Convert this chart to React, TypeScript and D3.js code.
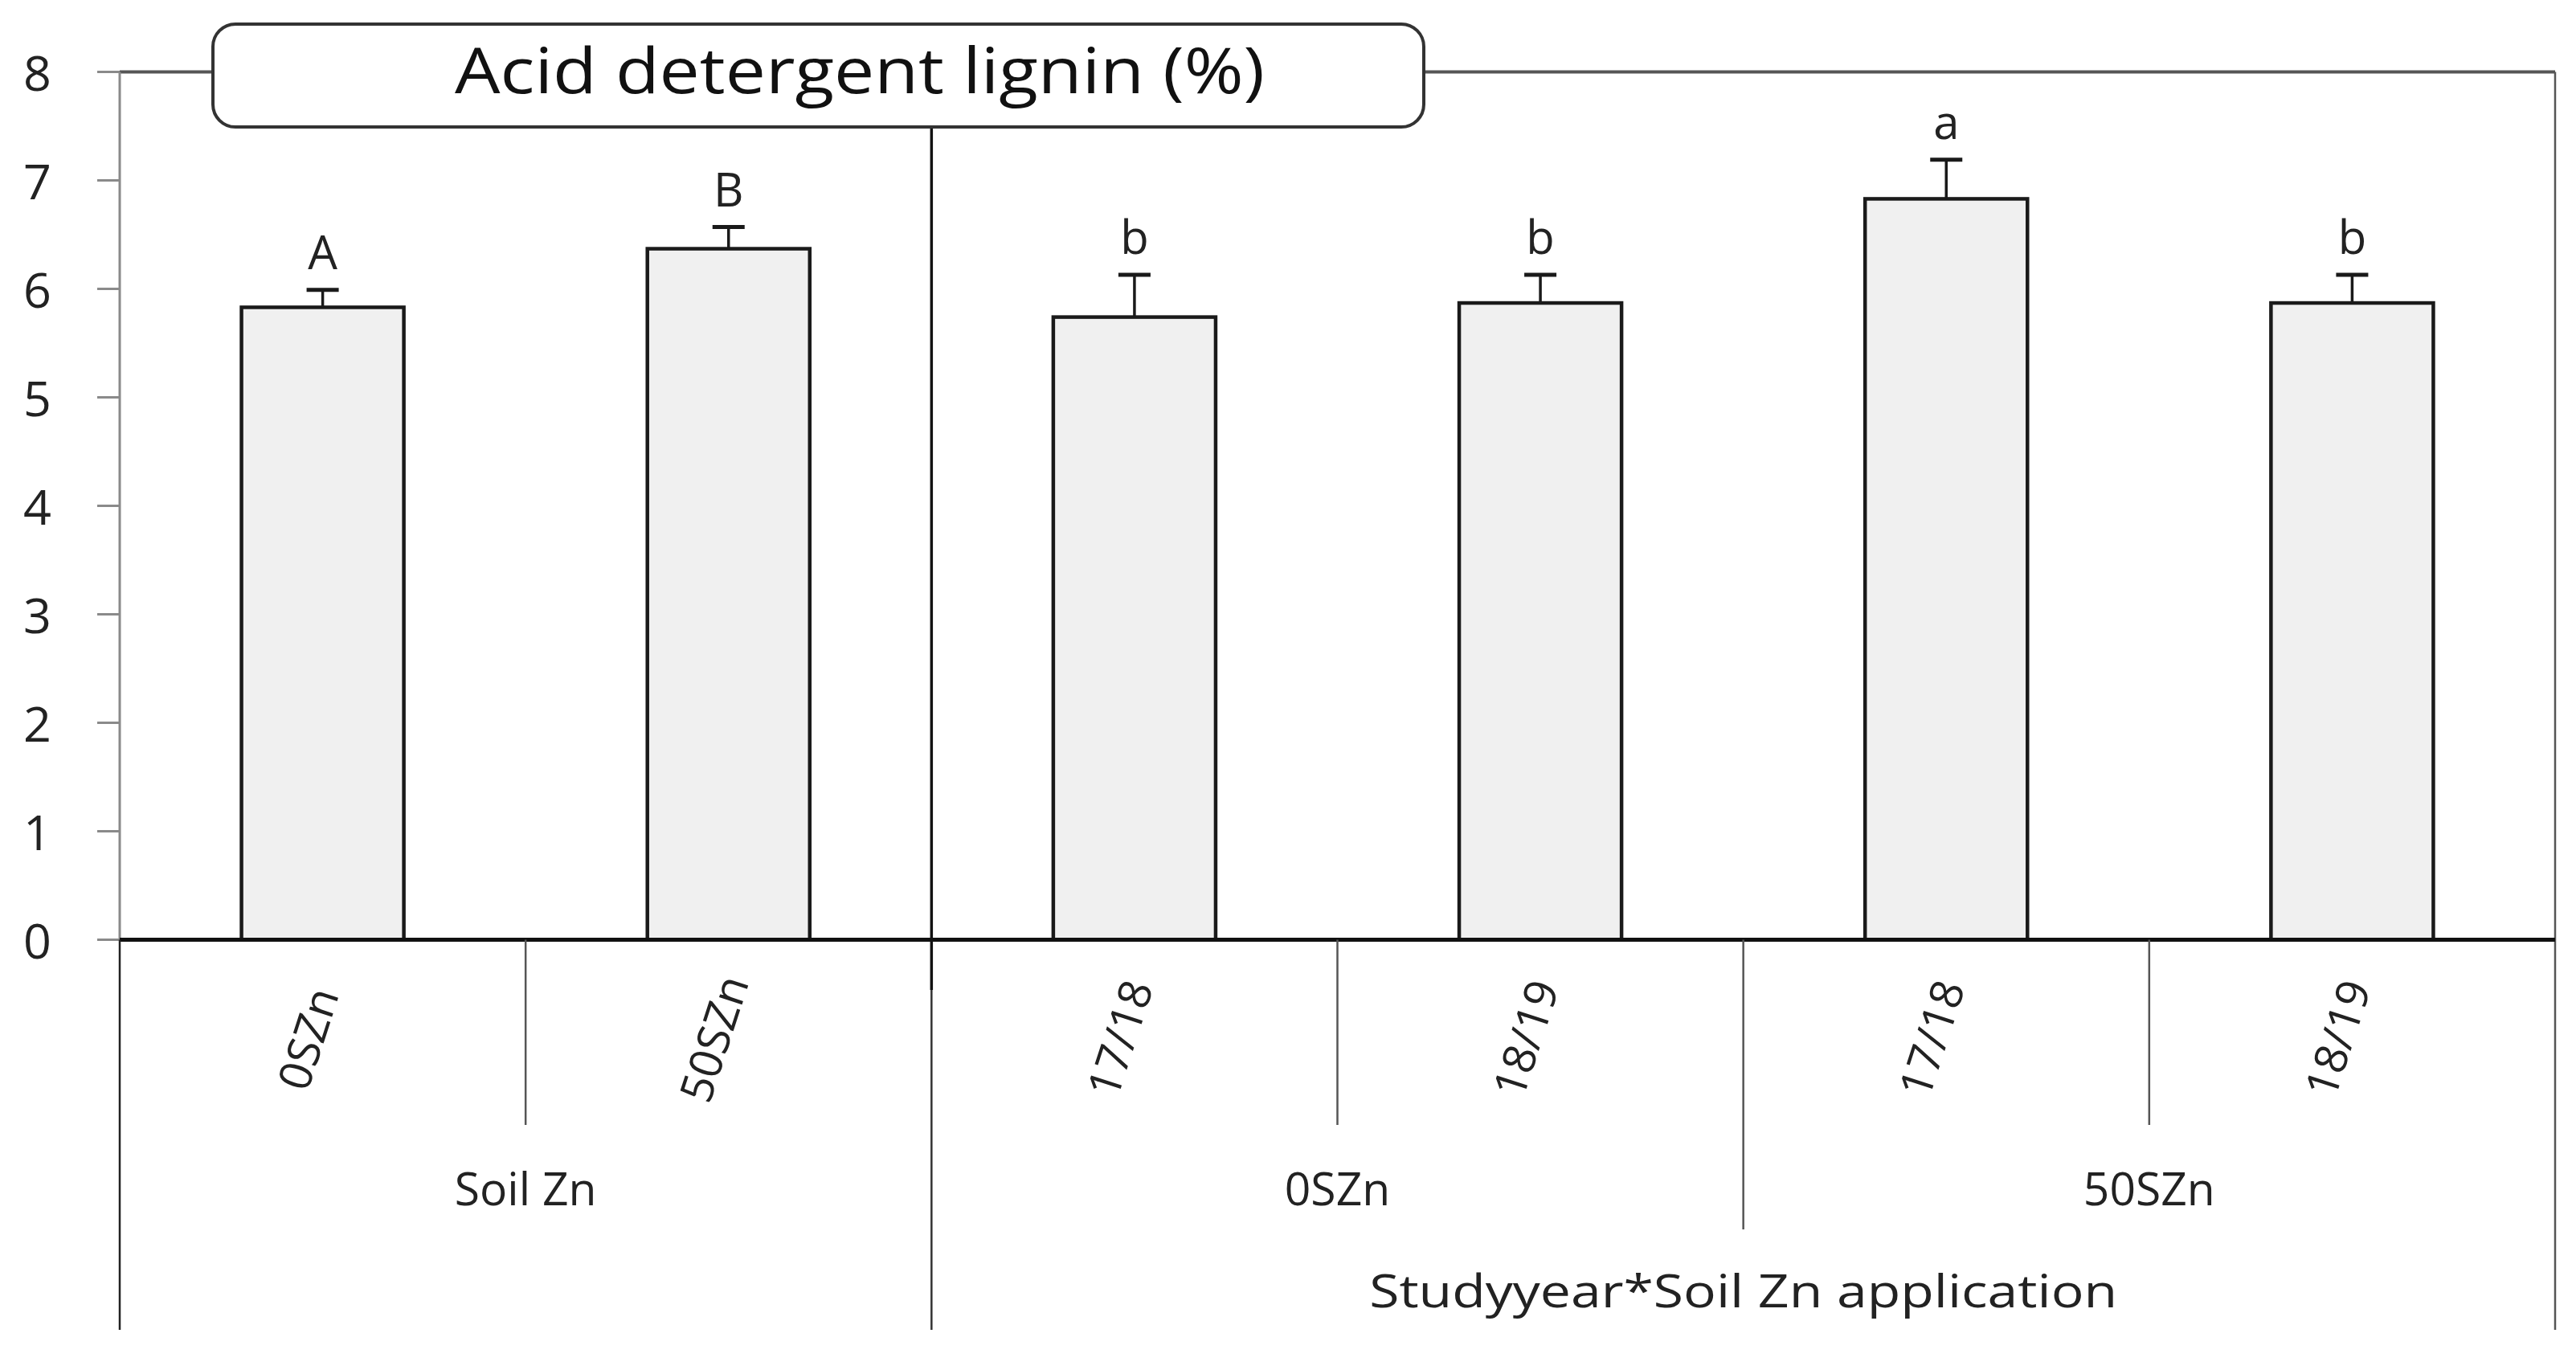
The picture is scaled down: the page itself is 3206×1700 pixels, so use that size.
import React from 'react';
import * as d3 from 'd3';

const categories = ['0SZn', '50SZn', '17/18', '18/19', '17/18', '18/19'];
const means = [5.83, 6.37, 5.74, 5.87, 6.83, 5.87];
const errors = [0.16, 0.2, 0.39, 0.26, 0.36, 0.26];
const letters = ['A', 'B', 'b', 'b', 'a', 'b'];
const groupLabels = ['Soil Zn', '0SZn', '50SZn'];
const groupSpans: [number, number][] = [[0, 1], [2, 3], [4, 5]];
const sectionLabel = 'Studyyear*Soil Zn application';
const sectionSpan: [number, number] = [2, 5];
const yTicks = [0, 1, 2, 3, 4, 5, 6, 7, 8];
const title = 'Acid detergent lignin (%)';

const W = 3206;
const H = 1700;
const FONT = "'Open Sans', 'Noto Sans', sans-serif";

export default function App() {
  const left = 149;
  const right = 3180;
  const y = d3.scaleLinear().domain([0, 8]).range([1169.5, 89.5]);
  const x = d3
    .scaleBand<number>()
    .domain(categories.map((_, i) => i))
    .range([left, right])
    .paddingInner(0.6)
    .paddingOuter(0.3);
  const step = x.step();
  const bw = x.bandwidth();
  const boundary = (i: number) => left + i * step;
  const center = (i: number) => (x(i) as number) + bw / 2;
  const y0 = y(0);
  const tier1Bottom = 1400;
  const tier2Bottom = 1530;
  const tableBottom = 1655;

  return (
    <svg
      width={W}
      height={H}
      style={{ position: 'absolute', left: 0, top: 0, background: '#fff' }}
      fontFamily={FONT}
    >
      <rect x={0} y={0} width={W} height={H} fill="#fff" />
      {/* frame top & right */}
      <line x1={left} x2={right} y1={y(8)} y2={y(8)} stroke="#555" strokeWidth={4} />
      <line x1={right} x2={right} y1={y(8)} y2={tableBottom} stroke="#555" strokeWidth={2.5} />
      {/* y axis */}
      <line x1={left} x2={left} y1={y(8)} y2={y0} stroke="#8a8a8a" strokeWidth={3} />
      {yTicks.map((t) => (
        <g key={t}>
          <line x1={121} x2={left} y1={y(t)} y2={y(t)} stroke="#8a8a8a" strokeWidth={3} />
          <text
            x={64}
            y={y(t)}
            textAnchor="end"
            dominantBaseline="central"
            fontSize={61}
            fill="#222"
          >
            {t}
          </text>
        </g>
      ))}
      {/* bars */}
      {means.map((m, i) => (
        <rect
          key={'b' + i}
          x={x(i)}
          y={y(m)}
          width={bw}
          height={y0 - y(m)}
          fill="#f0f0f0"
          stroke="#1a1a1a"
          strokeWidth={4.5}
        />
      ))}
      {/* error bars */}
      {means.map((m, i) => (
        <g key={'e' + i} stroke="#1a1a1a">
          <line x1={center(i)} x2={center(i)} y1={y(m)} y2={y(m + errors[i])} strokeWidth={3.5} />
          <line
            x1={center(i) - 20}
            x2={center(i) + 20}
            y1={y(m + errors[i])}
            y2={y(m + errors[i])}
            strokeWidth={5}
          />
        </g>
      ))}
      {/* letters */}
      {means.map((m, i) => (
        <text
          key={'l' + i}
          x={center(i)}
          y={y(m + errors[i]) - 26}
          textAnchor="middle"
          fontSize={58}
          fill="#222"
        >
          {letters[i]}
        </text>
      ))}
      {/* zero line */}
      <line x1={121} x2={left} y1={y0} y2={y0} stroke="#8a8a8a" strokeWidth={3} />
      <line x1={left} x2={right} y1={y0} y2={y0} stroke="#111" strokeWidth={5} />
      {/* table verticals */}
      <line x1={left} x2={left} y1={y0} y2={tableBottom} stroke="#222" strokeWidth={2.5} />
      <line
        x1={boundary(sectionSpan[0])}
        x2={boundary(sectionSpan[0])}
        y1={y(8)}
        y2={1232}
        stroke="#111"
        strokeWidth={3.5}
      />
      <line
        x1={boundary(sectionSpan[0])}
        x2={boundary(sectionSpan[0])}
        y1={1232}
        y2={tableBottom}
        stroke="#333"
        strokeWidth={2.5}
      />
      {groupSpans.map(([a, b], gi) => (
        <g key={'gd' + gi}>
          {d3.range(a + 1, b + 1).map((k) => (
            <line
              key={k}
              x1={boundary(k)}
              x2={boundary(k)}
              y1={y0}
              y2={tier1Bottom}
              stroke="#555"
              strokeWidth={2.5}
            />
          ))}
        </g>
      ))}
      {groupSpans.slice(1, -1).map(([, b], gi) => (
        <line
          key={'g2' + gi}
          x1={boundary(b + 1)}
          x2={boundary(b + 1)}
          y1={y0}
          y2={tier2Bottom}
          stroke="#555"
          strokeWidth={2.5}
        />
      ))}
      {/* category labels (rotated) */}
      {categories.map((c, i) => (
        <text
          key={'c' + i}
          transform={`translate(${center(i) - 20},1292) rotate(-72)`}
          textAnchor="middle"
          dominantBaseline="central"
          fontSize={56}
          fill="#222"
        >
          {c}
        </text>
      ))}
      {/* group labels */}
      {groupSpans.map(([a, b], gi) => (
        <text
          key={'gl' + gi}
          x={(boundary(a) + boundary(b + 1)) / 2}
          y={1500}
          textAnchor="middle"
          fontSize={57}
          fill="#222"
        >
          {groupLabels[gi]}
        </text>
      ))}
      <text
        x={(boundary(sectionSpan[0]) + boundary(sectionSpan[1] + 1)) / 2}
        y={1627}
        textAnchor="middle"
        fontSize={56}
        fill="#222"
        textLength={931}
        lengthAdjust="spacingAndGlyphs"
      >
        {sectionLabel}
      </text>
      {/* title box */}
      <rect x={265} y={30} width={1507} height={128} rx={28} ry={28} fill="#fff" stroke="#333" strokeWidth={4} />
      <text
        x={1070}
        y={116}
        textAnchor="middle"
        fontSize={78}
        fill="#111"
        textLength={1008}
        lengthAdjust="spacingAndGlyphs"
      >
        {title}
      </text>
    </svg>
  );
}
